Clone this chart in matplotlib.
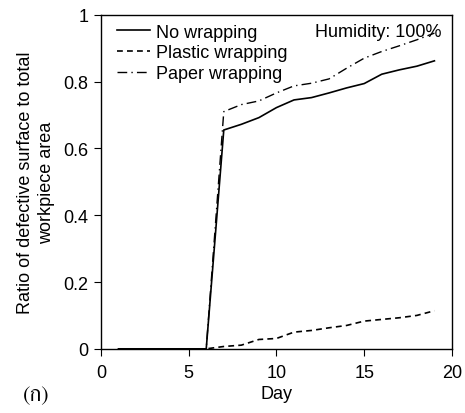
import matplotlib
matplotlib.use("Agg")
import matplotlib.pyplot as plt

days = list(range(1, 20))
no_wrap = [0, 0, 0, 0, 0, 0, 0.655, 0.672, 0.692, 0.722, 0.745, 0.752, 0.766, 0.781, 0.794, 0.822, 0.835, 0.846, 0.862]
plastic = [0, 0, 0, 0, 0, 0, 0.007, 0.011, 0.028, 0.031, 0.05, 0.055, 0.063, 0.07, 0.083, 0.088, 0.093, 0.1, 0.114]
paper = [0, 0, 0, 0, 0, 0, 0.71, 0.731, 0.742, 0.766, 0.787, 0.795, 0.808, 0.84, 0.87, 0.89, 0.907, 0.925, 0.945]
xticks = [0, 5, 10, 15, 20]
yticks = [0, 0.2, 0.4, 0.6, 0.8, 1]
ytick_labels = ["0", "0.2", "0.4", "0.6", "0.8", "1"]

plt.rcParams['font.family'] = ['Liberation Sans', 'DejaVu Sans']
fig = plt.figure(figsize=(4.65, 4.14), dpi=100)
ax = fig.add_axes([0.217, 0.155, 0.755, 0.807])

ax.plot(days, no_wrap, color='black', lw=1.2, linestyle='-', label='No wrapping')
ax.plot(days, plastic, color='black', lw=1.2, linestyle=(0, (3.5, 2.5)), label='Plastic wrapping')
ax.plot(days, paper, color='black', lw=1.0, linestyle=(0, (7, 3, 1, 3)), label='Paper wrapping')

ax.set_xlim(0, 20)
ax.set_ylim(0, 1)
ax.set_xticks(xticks)
ax.set_yticks(yticks)
ax.set_yticklabels(ytick_labels)
ax.tick_params(direction='out', length=5, width=0.8, labelsize=13)
ax.tick_params(axis='x', pad=6)
ax.tick_params(axis='y', pad=4)
for s in ax.spines.values():
    s.set_linewidth(1.0)

ax.set_xlabel('Day', fontsize=13, labelpad=3)
ax.set_ylabel('Ratio of defective surface to total\nworkpiece area', fontsize=13, labelpad=6, linespacing=1.3)

leg = ax.legend(loc='upper left', frameon=False, fontsize=13, handlelength=1.85,
                handletextpad=0.3, labelspacing=0.2, borderaxespad=0.1,
                bbox_to_anchor=(0.02, 1.0))
ax.text(0.61, 0.975, 'Humidity: 100%', transform=ax.transAxes, fontsize=13, va='top', ha='left')

fig.text(0.05, 0.032, '(ก)', fontsize=16,
         family=['FreeSerif', 'Noto Serif Thai', 'DejaVu Sans'])

fig.savefig('out.png', dpi=100)
